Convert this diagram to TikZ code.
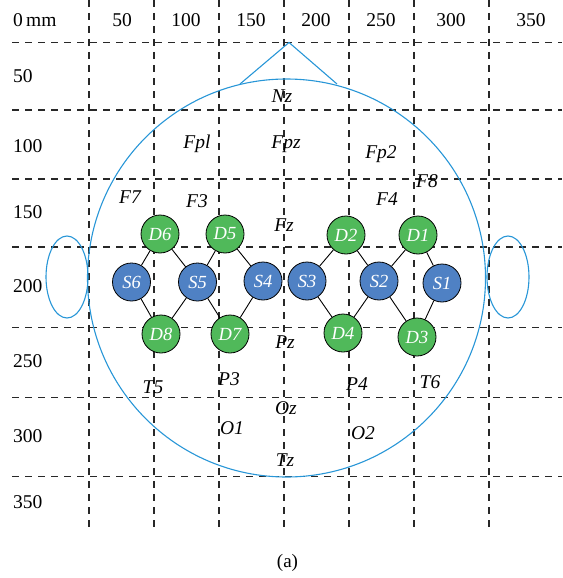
\documentclass[tikz,border=0pt]{standalone}
\usepackage{fontspec}
\setmainfont{Liberation Serif}
\definecolor{gridc}{RGB}{40,40,40}
\definecolor{headc}{RGB}{40,150,215}
\definecolor{dgreen}{RGB}{80,185,90}
\definecolor{sblue}{RGB}{79,129,196}
\begin{document}
\begin{tikzpicture}[x=1pt,y=-1pt,
  gridline/.style={draw=gridc, line width=1.1pt, dash pattern=on 7pt off 6pt},
  head/.style={draw=headc, line width=1.1pt},
  dnode/.style={circle, draw=black, line width=0.8pt, fill=dgreen, minimum size=38pt, inner sep=0pt, text=white, font=\fontsize{18.5}{18.5}\selectfont\itshape},
  snode/.style={dnode, fill=sblue},
  lab/.style={anchor=base, font=\fontsize{19.5}{19.5}\selectfont\itshape, inner sep=0pt},
  num/.style={anchor=base, font=\fontsize{19.5}{19.5}\selectfont, inner sep=0pt},
  lnum/.style={num, anchor=base west},
  link/.style={draw=black, line width=0.9pt}]
\useasboundingbox (0,0) rectangle (562,578);
% grid
\foreach \x in {89,154,219,284,349,414,489}
  \draw[gridline] (\x,0) -- (\x,533);
\foreach \y in {42.5,110,179,247,327.5,397.5,476.5}
  \draw[gridline] (12,\y) -- (562,\y);
% head
\draw[head] (286.5,278) circle[radius=199pt];
\draw[head] (240,84) -- (289,42.5) -- (337,84);
\draw[head] (67,277) ellipse[x radius=21pt, y radius=41pt];
\draw[head] (508,277) ellipse[x radius=21pt, y radius=41pt];
% optodes
\node[dnode] (D6) at (160,234) {D6};
\node[dnode] (D5) at (225,234) {D5};
\node[dnode] (D2) at (346,235) {D2};
\node[dnode] (D1) at (418,235) {D1};
\node[snode] (S6) at (131.5,282) {S6};
\node[snode] (S5) at (197.5,282) {S5};
\node[snode] (S4) at (263,281) {S4};
\node[snode] (S3) at (307,281) {S3};
\node[snode] (S2) at (379,281) {S2};
\node[snode] (S1) at (442,283) {S1};
\node[dnode] (D8) at (161,334) {D8};
\node[dnode] (D7) at (230,334) {D7};
\node[dnode] (D4) at (343,333) {D4};
\node[dnode] (D3) at (417,337) {D3};
\foreach \a/\b in {D6/S6,D6/S5,D5/S5,D5/S4,S6/D8,S5/D8,S5/D7,S4/D7,
                   D2/S3,D2/S2,D1/S2,D1/S1,S3/D4,S2/D4,S2/D3,S1/D3}
  \draw[link] (\a) -- (\b);
% axis numbers
\node[lnum] (t0) at (13,27) {0\,mm};
\node[num] (t50) at (122,27) {50};
\node[num] (t100) at (186,27) {100};
\node[num] (t150) at (251,27) {150};
\node[num] (t200) at (316,27) {200};
\node[num] (t250) at (381,27) {250};
\node[num] (t300) at (451,27) {300};
\node[num] (t350) at (531,27) {350};
\node[lnum] (l50) at (13,82) {50};
\node[lnum] (l100) at (13,152) {100};
\node[lnum] (l150) at (13,218) {150};
\node[lnum] (l200) at (13,292) {200};
\node[lnum] (l250) at (13,367) {250};
\node[lnum] (l300) at (13,442) {300};
\node[lnum] (l350) at (13,508) {350};
% electrode labels
\node[lab] (Nz) at (282,102) {Nz};
\node[lab] (Fpl) at (197,148) {Fpl};
\node[lab] (Fpz) at (286,148) {Fpz};
\node[lab] (Fp2) at (381,158) {Fp2};
\node[lab] (F8) at (427,187) {F8};
\node[lab] (F4) at (387,205) {F4};
\node[lab] (F7) at (130,203) {F7};
\node[lab] (F3) at (197,207) {F3};
\node[lab] (Fz) at (284,231) {Fz};
\node[lab] (Pz) at (285,348) {Pz};
\node[lab] (T5) at (153,393) {T5};
\node[lab] (P3) at (229,385) {P3};
\node[lab] (P4) at (357,390) {P4};
\node[lab] (T6) at (430,388) {T6};
\node[lab] (Oz) at (286,414) {Oz};
\node[lab] (O1) at (232,434) {O1};
\node[lab] (O2) at (363,439) {O2};
\node[lab] (Tz) at (285,466) {Tz};
\node[num, font=\fontsize{19}{19}\selectfont] (cap) at (287.5,567) {(a)};
\end{tikzpicture}
\end{document}
